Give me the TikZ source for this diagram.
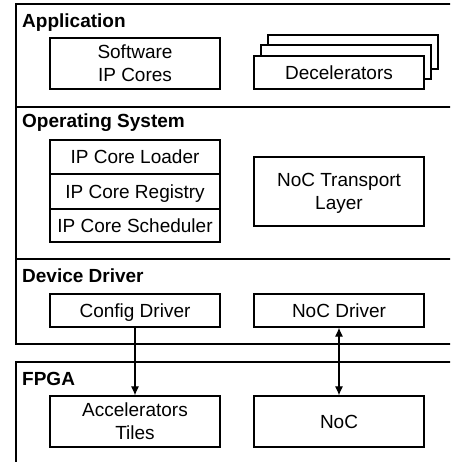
\documentclass[tikz,border=0pt]{standalone}
\usepackage{fontspec}
\setmainfont{Liberation Sans}
\usetikzlibrary{arrows.meta}
\newcommand\diagfont{\fontsize{19}{23}\selectfont}
\begin{document}
\begin{tikzpicture}[x=1pt,y=-1pt,
  box/.style={draw, line width=1.2pt, fill=white, minimum width=170pt,
    inner sep=0pt, align=center, font=\diagfont},
  oneline/.style={text height=13.6pt, text depth=0pt},
  layername/.style={anchor=base west, inner sep=0pt, font=\bfseries\diagfont},
  frame/.style={line width=2pt},
  divider/.style={line width=1.3pt},
  tip/.tip={Latex[length=9pt,width=8pt]},
  arr/.style={line width=1.1pt, -tip},
  biarr/.style={line width=1.1pt, tip-tip}]
\useasboundingbox (0,0) rectangle (450,462);
\clip (0,0) rectangle (450,462);

% software stack frame
\draw[frame] (460,4) -- (16,4) -- (16,344) -- (460,344);
\draw[divider] (16,107) -- (460,107);
\draw[divider] (16,259) -- (460,259);

% FPGA frame
\draw[frame] (460,362) -- (16,362) -- (16,470);

% layer titles
\node[layername] (tapp) at (22,28) {Application};
\node[layername] (tos) at (22,128) {Operating System};
\node[layername] (tdrv) at (22,282) {Device Driver};
\node[layername] (tfpga) at (22,385) {FPGA};

% application layer
\node[box, minimum height=51pt] (sw) at (135,63.5) {Software\\IP Cores};
\node[box, minimum height=34pt] (dec3) at (353,52) {};
\node[box, minimum height=34pt] (dec2) at (346,62) {};
\node[box, oneline, minimum height=33pt] (dec) at (339,72.5) {Decelerators};

% operating system layer
\node[box, oneline, minimum height=34pt] (loader) at (135,157) {IP Core Loader};
\node[box, oneline, minimum height=35pt] (registry) at (135,191.5) {IP Core Registry};
\node[box, oneline, minimum height=33pt] (sched) at (135,225.5) {IP Core Scheduler};
\node[box, minimum height=69pt] (transport) at (339,191.5) {NoC Transport\\\smash{Layer}};

% device driver layer
\node[box, oneline, minimum height=33pt] (cfgdrv) at (135,310.5) {Config Driver};
\node[box, oneline, minimum height=33pt] (nocdrv) at (339,310.5) {NoC Driver};

% FPGA layer
\node[box, minimum height=51pt] (tiles) at (135,421.5) {Accelerators\\Tiles};
\node[box, oneline, minimum height=51pt] (noc) at (339,421.5) {NoC};

% connections
\draw[arr] (cfgdrv.south) -- (tiles.north);
\draw[biarr] (nocdrv.south) -- (noc.north);
\end{tikzpicture}
\end{document}
